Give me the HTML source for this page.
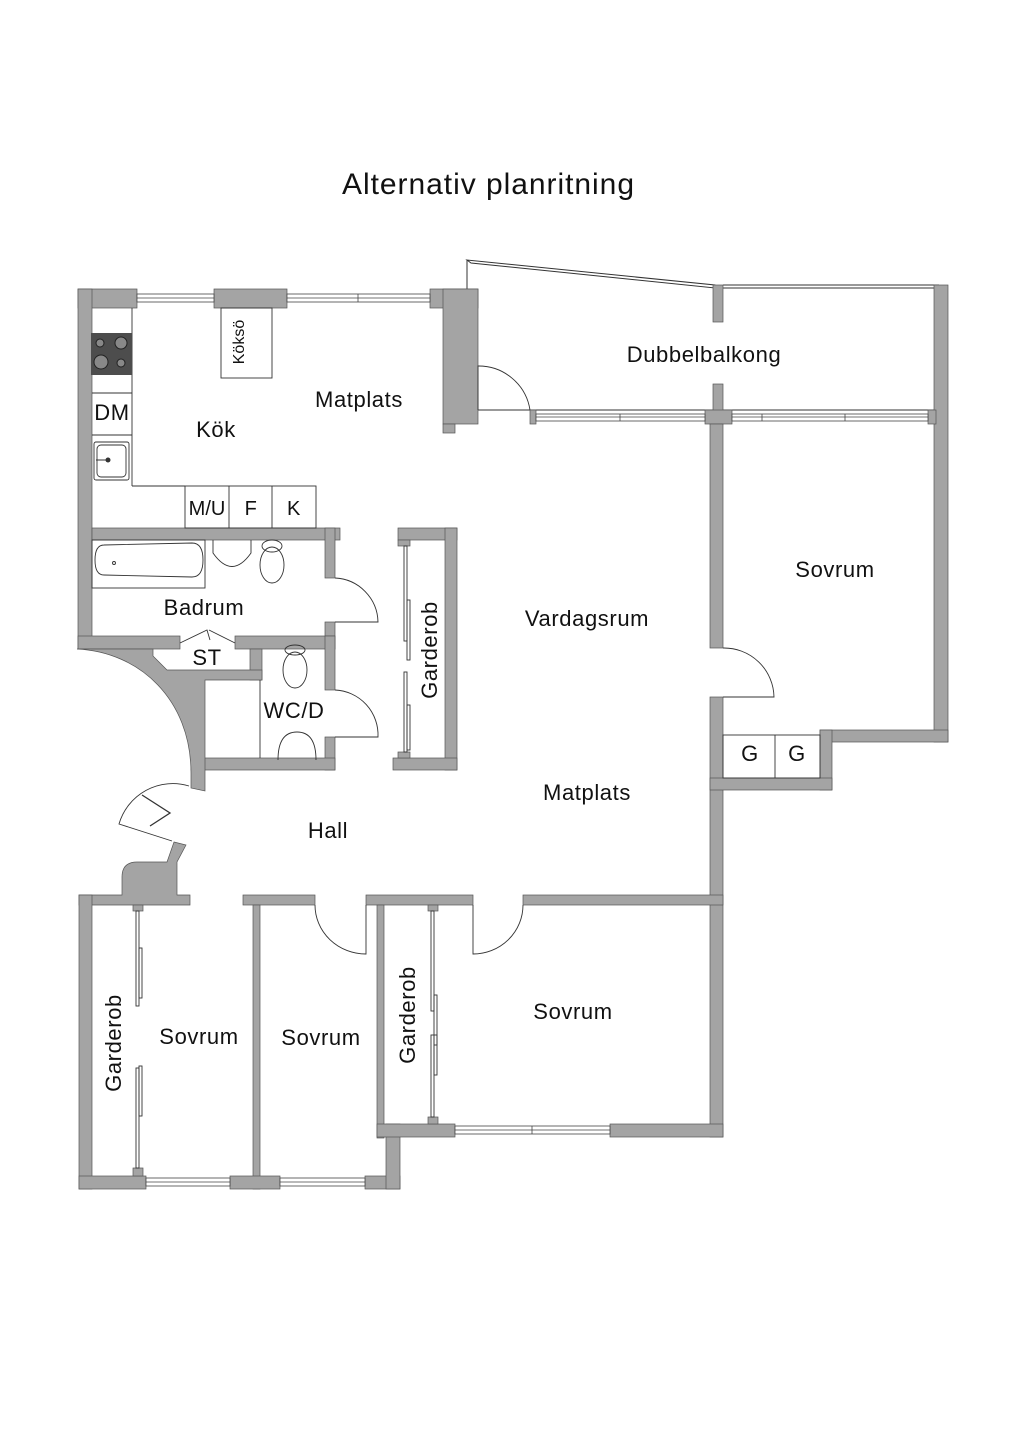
<!DOCTYPE html>
<html><head><meta charset="utf-8"><style>
html,body{margin:0;padding:0;background:#fff;}
svg{display:block;}
text{font-family:"Liberation Sans",sans-serif;fill:#111;}
</style></head><body>
<svg width="1024" height="1448" viewBox="0 0 1024 1448" xmlns="http://www.w3.org/2000/svg">
<rect width="1024" height="1448" fill="#fff"/>
<text x="488" y="194" font-size="30" text-anchor="middle" textLength="292">Alternativ planritning</text>

<g fill="none" stroke="#333" stroke-width="1">
<polygon points="467,260 471,263 715,288 715,285"/>
<path d="M467,260 V410 H939"/>
<path d="M723,285 H939"/>
<path d="M723,288 H939"/>
</g>

<g fill="#a4a4a4" stroke="#555" stroke-width="0.7">
<rect x="78" y="289" width="59" height="19"/>
<rect x="214" y="289" width="73" height="19"/>
<rect x="430" y="289" width="48" height="19"/>
<rect x="443" y="289" width="35" height="135"/>
<rect x="443" y="424" width="12" height="9"/>
<rect x="78" y="289" width="14" height="360"/>
<rect x="934" y="285" width="14" height="457"/>
<rect x="713" y="285" width="10" height="37"/>
<rect x="713" y="384" width="10" height="40"/>
<rect x="705" y="410" width="27" height="14"/>
<rect x="530" y="410" width="6" height="14"/>
<rect x="928" y="410" width="8" height="14"/>
<rect x="710" y="424" width="13" height="224"/>
<rect x="710" y="697" width="13" height="440"/>
<rect x="820" y="730" width="128" height="12"/>
<rect x="820" y="730" width="12" height="60"/>
<rect x="710" y="778" width="122" height="12"/>
<rect x="92" y="528" width="248" height="12"/>
<rect x="325" y="528" width="10" height="50"/>
<rect x="325" y="622" width="10" height="27"/>
<rect x="78" y="636" width="102" height="13"/>
<rect x="235" y="636" width="100" height="13"/>
<rect x="325" y="636" width="10" height="54"/>
<rect x="325" y="737" width="10" height="33"/>
<rect x="250" y="649" width="12" height="31"/>
<rect x="191" y="758" width="144" height="12"/>
<path d="M77,649 H153 V656 L167,670 H262 V680 H205 V791 L191,788 V773 C191,700 140,652 77,649 Z"/>
<path d="M174,842 L186,845 L177,862 V895 H190 V905 H79 V895 H122 V877 Q122,862 137,862 H167 Z"/>
<rect x="398" y="528" width="59" height="12"/>
<rect x="445" y="528" width="12" height="242"/>
<rect x="393" y="758" width="64" height="12"/>
<rect x="398" y="540" width="12" height="6"/>
<rect x="398" y="752" width="12" height="6"/>
<rect x="79" y="895" width="13" height="294"/>
<rect x="243" y="895" width="72" height="10"/>
<rect x="366" y="895" width="107" height="10"/>
<rect x="523" y="895" width="200" height="10"/>
<rect x="253" y="905" width="7" height="284"/>
<rect x="377" y="905" width="7" height="233"/>
<rect x="79" y="1176" width="67" height="13"/>
<rect x="230" y="1176" width="50" height="13"/>
<rect x="365" y="1176" width="35" height="13"/>
<rect x="386" y="1124" width="14" height="65"/>
<rect x="377" y="1124" width="78" height="13"/>
<rect x="610" y="1124" width="113" height="13"/>
<rect x="133" y="905" width="10" height="6"/>
<rect x="133" y="1168" width="10" height="8"/>
<rect x="428" y="905" width="10" height="6"/>
<rect x="428" y="1117" width="10" height="7"/>
</g>

<g fill="#fff" stroke="#444" stroke-width="0.8">
<rect x="137" y="294" width="77" height="8"/><line x1="137" y1="298" x2="214" y2="298"/>
<rect x="287" y="294" width="143" height="8"/><line x1="287" y1="298" x2="430" y2="298"/><line x1="358" y1="294" x2="358" y2="302"/>
<rect x="536" y="414" width="169" height="7"/><line x1="536" y1="417" x2="705" y2="417"/><line x1="620" y1="414" x2="620" y2="421"/>
<rect x="732" y="414" width="196" height="7"/><line x1="732" y1="417" x2="928" y2="417"/><line x1="762" y1="414" x2="762" y2="421"/><line x1="845" y1="414" x2="845" y2="421"/>
<rect x="146" y="1178" width="84" height="8"/><line x1="146" y1="1182" x2="230" y2="1182"/>
<rect x="280" y="1178" width="85" height="8"/><line x1="280" y1="1182" x2="365" y2="1182"/>
<rect x="455" y="1126" width="155" height="8"/><line x1="455" y1="1130" x2="610" y2="1130"/><line x1="532" y1="1126" x2="532" y2="1134"/>
</g>

<g fill="none" stroke="#333" stroke-width="0.9">
<line x1="132" y1="308" x2="132" y2="486"/>
<line x1="132" y1="486" x2="185" y2="486"/>
<rect x="185" y="486" width="131" height="42"/>
<line x1="229" y1="486" x2="229" y2="528"/><line x1="272" y1="486" x2="272" y2="528"/>
<line x1="92" y1="393" x2="132" y2="393"/><line x1="92" y1="435" x2="132" y2="435"/>
<rect x="221" y="308" width="51" height="70"/>
<rect x="94" y="442" width="35" height="38" rx="2"/>
<rect x="97" y="445" width="29" height="32" rx="4"/>
<rect x="92" y="540" width="113" height="48"/>
<path d="M104,545 L192,543 Q203,543 203,560 Q203,577 192,577 L104,575 Q95,575 95,560 Q95,545 104,545 Z"/>
<circle cx="114" cy="563" r="1.5"/>
<path d="M213,540 V553 Q232,580 251,553 V540"/>
<ellipse cx="272" cy="565" rx="12" ry="18"/>
<ellipse cx="272" cy="546" rx="10" ry="6"/>
<ellipse cx="295" cy="670" rx="12" ry="18"/>
<ellipse cx="295" cy="650" rx="10" ry="5"/>
<path d="M278,760 Q278,732 297,732 Q316,732 316,760"/>
<line x1="260" y1="680" x2="260" y2="758"/>
<path d="M180,643 L207,630 L210,640 M235,643 L209,630"/>
<path d="M335,578 A45,45 0 0 1 378,622 H335"/>
<path d="M335,690 A45,45 0 0 1 378,737 H335"/>
<path d="M478,410 V366 A52,52 0 0 1 530,410"/>
<path d="M723,648 A50,50 0 0 1 774,697 H723"/>
<path d="M315,905 A51,49 0 0 0 366,954 V905"/>
<path d="M523,905 A50,49 0 0 1 473,954 V905"/>
<path d="M172,841 L119,824 A56,56 0 0 1 189,786"/>
<path d="M142,795 L170,813 L150,826" stroke-width="1.3"/>
<rect x="723" y="735" width="97" height="43"/>
<line x1="775" y1="735" x2="775" y2="778"/>
<rect x="404" y="546" width="3" height="95"/><rect x="407" y="600" width="3" height="60"/>
<rect x="404" y="672" width="3" height="80"/><rect x="407" y="705" width="3" height="45"/>
<rect x="136" y="911" width="3" height="95"/><rect x="139" y="948" width="3" height="50"/>
<rect x="136" y="1068" width="3" height="100"/><rect x="139" y="1066" width="3" height="50"/>
<rect x="431" y="911" width="3" height="100"/><rect x="434" y="995" width="3" height="50"/>
<rect x="431" y="1035" width="3" height="82"/><rect x="434" y="1035" width="3" height="40"/>
</g>
<rect x="91" y="333" width="41" height="42" fill="#4d4d4d"/>
<g fill="#888" stroke="#222" stroke-width="1">
<circle cx="100" cy="343" r="4"/><circle cx="121" cy="343" r="6"/>
<circle cx="101" cy="362" r="7"/><circle cx="121" cy="363" r="4"/>
</g>
<circle cx="108" cy="460" r="2.5" fill="#333"/><line x1="96" y1="460" x2="108" y2="460" stroke="#333"/>

<g font-size="22" text-anchor="middle" letter-spacing="0.6">
<text x="359" y="407">Matplats</text>
<text x="216" y="437">Kök</text>
<text x="112" y="420">DM</text>
<text x="207" y="515" font-size="20" letter-spacing="0">M/U</text>
<text x="251" y="515" font-size="20">F</text>
<text x="294" y="515" font-size="20">K</text>
<text x="204" y="615">Badrum</text>
<text x="207" y="665">ST</text>
<text x="294" y="718">WC/D</text>
<text x="704" y="362">Dubbelbalkong</text>
<text x="587" y="626">Vardagsrum</text>
<text x="835" y="577">Sovrum</text>
<text x="750" y="761">G</text>
<text x="797" y="761">G</text>
<text x="587" y="800">Matplats</text>
<text x="328" y="838">Hall</text>
<text x="199" y="1044">Sovrum</text>
<text x="321" y="1045">Sovrum</text>
<text x="573" y="1019">Sovrum</text>
<text transform="translate(437,650) rotate(-90)">Garderob</text>
<text transform="translate(121,1043) rotate(-90)">Garderob</text>
<text transform="translate(415,1015) rotate(-90)">Garderob</text>
<text transform="translate(244,342) rotate(-90)" font-size="16" letter-spacing="0">Köksö</text>
</g>
</svg>
</body></html>
